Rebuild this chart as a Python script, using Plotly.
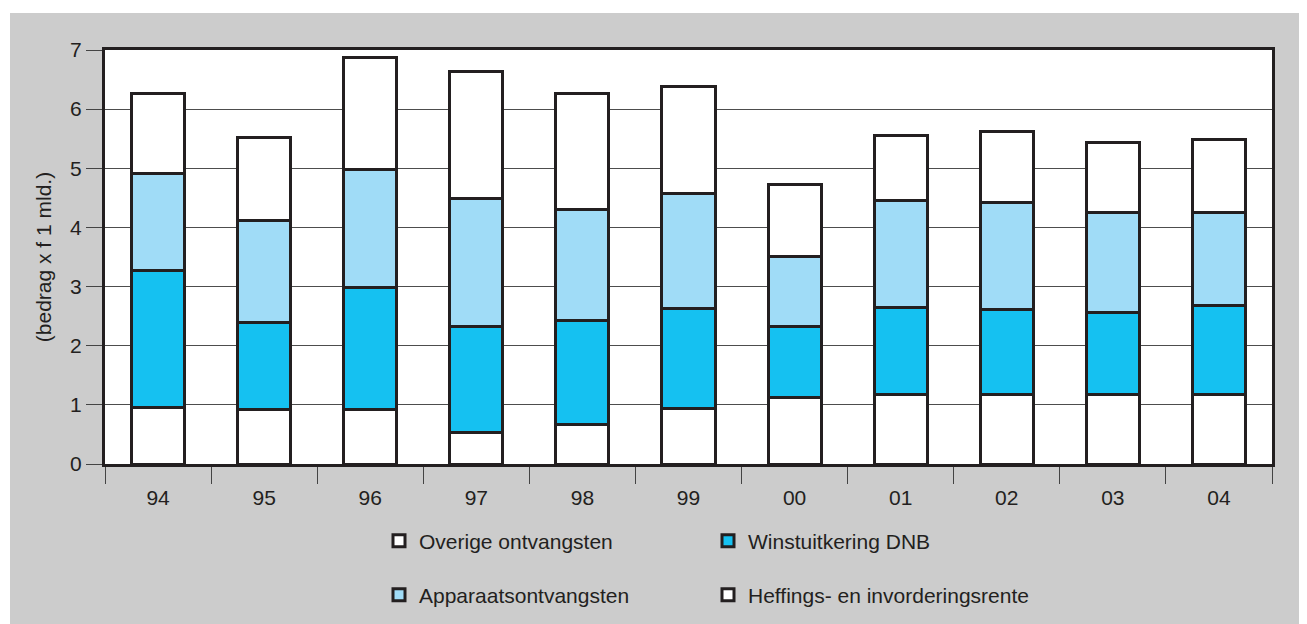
import plotly.graph_objects as go

years = ["94", "95", "96", "97", "98", "99", "00", "01", "02", "03", "04"]
heffings = [0.96, 0.92, 0.93, 0.54, 0.66, 0.94, 1.12, 1.18, 1.18, 1.18, 1.18]
winst = [2.32, 1.47, 2.06, 1.78, 1.76, 1.69, 1.20, 1.47, 1.43, 1.39, 1.50]
apparaats = [1.63, 1.73, 1.99, 2.17, 1.88, 1.95, 1.19, 1.80, 1.81, 1.69, 1.58]
overige = [1.36, 1.40, 1.89, 2.14, 1.96, 1.80, 1.21, 1.11, 1.21, 1.18, 1.22]
y_ticks = [0, 1, 2, 3, 4, 5, 6, 7]

DARK = "#231f20"
GRAY = "#cccccc"
CYAN = "#15c1f1"
LIGHT = "#a0dcf7"
FONT = "Liberation Sans, Arial, Helvetica, sans-serif"

fig = go.Figure()

def bar(name, vals, color, legend):
    fig.add_trace(go.Bar(
        x=years, y=vals, name=name, legend=legend,
        marker=dict(color=color, line=dict(color=DARK, width=3)),
        width=0.5,
    ))

bar("Heffings- en invorderingsrente", heffings, "white", "legend4")
bar("Winstuitkering DNB", winst, CYAN, "legend2")
bar("Apparaatsontvangsten", apparaats, LIGHT, "legend3")
bar("Overige ontvangsten", overige, "white", "legend")

OFF = 8  # page body margin
W, H = 1307 - OFF, 624 - OFF
# reference-pixel geometry of the plot area
PL, PR, PT, PB = 105, 1272, 50, 464
L, R, T, B = PL - OFF, W - (PR - OFF), PT - OFF, H - (PB - OFF)
pw, ph = W - L - R, H - T - B

def px_x(x):
    return (x - OFF - L) / pw

def px_y(y):
    return (PB - y) / ph

leg_common = dict(font=dict(family=FONT, size=21, color=DARK), bgcolor="rgba(0,0,0,0)",
                  borderwidth=0, xanchor="left", yanchor="middle", traceorder="normal")

fig.update_layout(
    width=W, height=H,
    margin=dict(l=L, r=R, t=T, b=B, autoexpand=False),
    paper_bgcolor=GRAY, plot_bgcolor="white",
    barmode="stack",
    showlegend=True,
    font=dict(family=FONT, size=21, color=DARK),
    legend=dict(x=px_x(379), y=px_y(541), **leg_common),
    legend2=dict(x=px_x(708), y=px_y(541), **leg_common),
    legend3=dict(x=px_x(379), y=px_y(595), **leg_common),
    legend4=dict(x=px_x(708), y=px_y(595), **leg_common),
    xaxis=dict(
        type="category", showline=True, mirror=True, linecolor=DARK, linewidth=3,
        ticks="outside", tickson="boundaries", ticklen=17, tickwidth=1.2, tickcolor="#444",
        showgrid=False, tickfont=dict(size=21, color=DARK), automargin=False,
        ticklabelstandoff=13,
    ),
    yaxis=dict(
        range=[0, 7], tickvals=y_ticks, showline=True, mirror=True, linecolor=DARK, linewidth=3,
        ticks="outside", ticklen=16, tickwidth=1.2, tickcolor="#444",
        showgrid=True, gridcolor="#4d4d4d", gridwidth=1, zeroline=False,
        tickfont=dict(size=21, color=DARK), automargin=False,
        title=dict(text="(bedrag x f 1 mld.)", font=dict(size=21, color=DARK), standoff=13),
    ),
    shapes=[
        dict(type="rect", xref="paper", yref="paper", x0=-0.3, x1=1.2,
             y0=px_y(13), y1=1.3, fillcolor="white", line=dict(width=0), layer="below"),
        dict(type="rect", xref="paper", yref="paper", x0=-0.3, x1=px_x(10),
             y0=-0.6, y1=1.3, fillcolor="white", line=dict(width=0), layer="below"),
    ],
)

fig.write_html("out.html")
